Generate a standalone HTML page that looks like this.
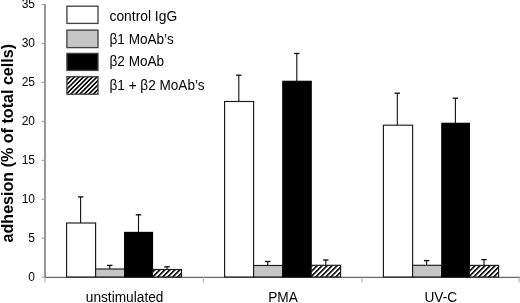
<!DOCTYPE html>
<html><head><meta charset="utf-8"><style>
html,body{margin:0;padding:0;background:#fff;width:520px;height:303px;overflow:hidden}
svg{display:block;filter:grayscale(1)}
text{font-family:"Liberation Sans",sans-serif;fill:#000}
</style></head><body>
<svg width="520" height="303" viewBox="0 0 520 303">
<defs>
<pattern id="hatch0" patternUnits="userSpaceOnUse" width="3.536" height="10" patternTransform="translate(150.40,273.1) rotate(45)"><rect width="3.536" height="10" fill="#fff"/><rect width="1.6" height="10" fill="#000"/></pattern>
<pattern id="hatch1" patternUnits="userSpaceOnUse" width="3.536" height="10" patternTransform="translate(308.50,273.1) rotate(45)"><rect width="3.536" height="10" fill="#fff"/><rect width="1.6" height="10" fill="#000"/></pattern>
<pattern id="hatch2" patternUnits="userSpaceOnUse" width="3.536" height="10" patternTransform="translate(466.40,273.1) rotate(45)"><rect width="3.536" height="10" fill="#fff"/><rect width="1.6" height="10" fill="#000"/></pattern>
<pattern id="lhatch" patternUnits="userSpaceOnUse" width="3.18" height="10" patternTransform="translate(66.4,83.9) rotate(45)">
<rect width="3.18" height="10" fill="#fff"/><rect width="1.59" height="10" fill="#000"/>
</pattern>
</defs>
<rect width="520" height="303" fill="#fff"/>

<line x1="45" y1="4" x2="45" y2="277.2" stroke="#555" stroke-width="1.2"/>
<line x1="41.5" y1="277.20" x2="45" y2="277.20" stroke="#999" stroke-width="1"/>
<text x="35" y="280.90" font-size="12" text-anchor="end">0</text>
<line x1="41.5" y1="238.24" x2="45" y2="238.24" stroke="#999" stroke-width="1"/>
<text x="35" y="241.94" font-size="12" text-anchor="end">5</text>
<line x1="41.5" y1="199.29" x2="45" y2="199.29" stroke="#999" stroke-width="1"/>
<text x="35" y="202.99" font-size="12" text-anchor="end">10</text>
<line x1="41.5" y1="160.33" x2="45" y2="160.33" stroke="#999" stroke-width="1"/>
<text x="35" y="164.03" font-size="12" text-anchor="end">15</text>
<line x1="41.5" y1="121.37" x2="45" y2="121.37" stroke="#999" stroke-width="1"/>
<text x="35" y="125.07" font-size="12" text-anchor="end">20</text>
<line x1="41.5" y1="82.41" x2="45" y2="82.41" stroke="#999" stroke-width="1"/>
<text x="35" y="86.11" font-size="12" text-anchor="end">25</text>
<line x1="41.5" y1="43.46" x2="45" y2="43.46" stroke="#999" stroke-width="1"/>
<text x="35" y="47.16" font-size="12" text-anchor="end">30</text>
<line x1="41.5" y1="4.50" x2="45" y2="4.50" stroke="#999" stroke-width="1"/>
<text x="35" y="8.20" font-size="12" text-anchor="end">35</text>
<line x1="45" y1="277.3" x2="520" y2="277.3" stroke="#444" stroke-width="1"/>
<line x1="45" y1="277.2" x2="45" y2="282.3" stroke="#aaa" stroke-width="1"/>
<line x1="203.3" y1="277.2" x2="203.3" y2="282.3" stroke="#aaa" stroke-width="1"/>
<line x1="361.9" y1="277.2" x2="361.9" y2="282.3" stroke="#aaa" stroke-width="1"/>
<line x1="519" y1="277.2" x2="519" y2="282.3" stroke="#aaa" stroke-width="1"/>
<line x1="80.60" y1="196.90" x2="80.60" y2="223.00" stroke="#111" stroke-width="1.1"/>
<line x1="77.90" y1="196.90" x2="83.30" y2="196.90" stroke="#111" stroke-width="1.35"/>
<rect x="66.60" y="223.00" width="29.00" height="54.00" fill="#fff" stroke="#1a1a1a" stroke-width="1.15"/>
<line x1="109.80" y1="265.40" x2="109.80" y2="269.00" stroke="#111" stroke-width="1.1"/>
<line x1="107.10" y1="265.40" x2="112.50" y2="265.40" stroke="#111" stroke-width="1.35"/>
<rect x="95.60" y="269.00" width="29.00" height="8.00" fill="#c6c6c6" stroke="#1a1a1a" stroke-width="1.15"/>
<line x1="138.50" y1="214.80" x2="138.50" y2="232.40" stroke="#111" stroke-width="1.1"/>
<line x1="135.80" y1="214.80" x2="141.20" y2="214.80" stroke="#111" stroke-width="1.35"/>
<rect x="124.60" y="232.40" width="27.90" height="44.60" fill="#000" stroke="#000" stroke-width="1.15"/>
<line x1="167.00" y1="266.80" x2="167.00" y2="269.50" stroke="#111" stroke-width="1.1"/>
<line x1="164.30" y1="266.80" x2="169.70" y2="266.80" stroke="#111" stroke-width="1.35"/>
<rect x="152.50" y="269.50" width="29.00" height="7.50" fill="url(#hatch0)" stroke="#1a1a1a" stroke-width="1.15"/>
<line x1="238.80" y1="75.20" x2="238.80" y2="101.50" stroke="#111" stroke-width="1.1"/>
<line x1="236.10" y1="75.20" x2="241.50" y2="75.20" stroke="#111" stroke-width="1.35"/>
<rect x="224.60" y="101.50" width="29.00" height="175.50" fill="#fff" stroke="#1a1a1a" stroke-width="1.15"/>
<line x1="267.80" y1="261.50" x2="267.80" y2="265.50" stroke="#111" stroke-width="1.1"/>
<line x1="265.10" y1="261.50" x2="270.50" y2="261.50" stroke="#111" stroke-width="1.35"/>
<rect x="253.60" y="265.50" width="29.20" height="11.50" fill="#c6c6c6" stroke="#1a1a1a" stroke-width="1.15"/>
<line x1="296.80" y1="53.50" x2="296.80" y2="81.30" stroke="#111" stroke-width="1.1"/>
<line x1="294.10" y1="53.50" x2="299.50" y2="53.50" stroke="#111" stroke-width="1.35"/>
<rect x="282.80" y="81.30" width="28.40" height="195.70" fill="#000" stroke="#000" stroke-width="1.15"/>
<line x1="325.80" y1="260.00" x2="325.80" y2="265.30" stroke="#111" stroke-width="1.1"/>
<line x1="323.10" y1="260.00" x2="328.50" y2="260.00" stroke="#111" stroke-width="1.35"/>
<rect x="311.20" y="265.30" width="29.40" height="11.70" fill="url(#hatch1)" stroke="#1a1a1a" stroke-width="1.15"/>
<line x1="397.30" y1="93.20" x2="397.30" y2="125.20" stroke="#111" stroke-width="1.1"/>
<line x1="394.60" y1="93.20" x2="400.00" y2="93.20" stroke="#111" stroke-width="1.35"/>
<rect x="383.40" y="125.20" width="29.20" height="151.80" fill="#fff" stroke="#1a1a1a" stroke-width="1.15"/>
<line x1="426.60" y1="260.60" x2="426.60" y2="265.30" stroke="#111" stroke-width="1.1"/>
<line x1="423.90" y1="260.60" x2="429.30" y2="260.60" stroke="#111" stroke-width="1.35"/>
<rect x="412.60" y="265.30" width="29.20" height="11.70" fill="#c6c6c6" stroke="#1a1a1a" stroke-width="1.15"/>
<line x1="455.40" y1="98.20" x2="455.40" y2="123.30" stroke="#111" stroke-width="1.1"/>
<line x1="452.70" y1="98.20" x2="458.10" y2="98.20" stroke="#111" stroke-width="1.35"/>
<rect x="441.80" y="123.30" width="27.60" height="153.70" fill="#000" stroke="#000" stroke-width="1.15"/>
<line x1="484.00" y1="259.60" x2="484.00" y2="265.40" stroke="#111" stroke-width="1.1"/>
<line x1="481.30" y1="259.60" x2="486.70" y2="259.60" stroke="#111" stroke-width="1.35"/>
<rect x="469.40" y="265.40" width="29.20" height="11.60" fill="url(#hatch2)" stroke="#1a1a1a" stroke-width="1.15"/>
<text transform="translate(124.6,302.1) scale(1,1.04)" font-size="13.7" text-anchor="middle">unstimulated</text>
<text transform="translate(283,302.1) scale(1,1.04)" font-size="13.7" text-anchor="middle">PMA</text>
<text transform="translate(440.8,302.1) scale(1,1.04)" font-size="13.7" text-anchor="middle">UV-C</text>
<text transform="translate(13.3,143.2) rotate(-90)" font-size="16.1" font-weight="bold" text-anchor="middle">adhesion (% of total cells)</text>
<rect x="66.9" y="6.20" width="31.1" height="17.2" fill="#fff" stroke="#444" stroke-width="1.35"/>
<text transform="translate(109.5,21.30) scale(1.018,1.065)" font-size="13.6">control IgG</text>
<rect x="66.9" y="30.10" width="31.1" height="17.5" fill="#c6c6c6" stroke="#444" stroke-width="1.35"/>
<text transform="translate(109.5,44.40) scale(1,1.065)" font-size="13.6">β1 MoAb’s</text>
<rect x="66.9" y="53.40" width="31.1" height="17.0" fill="#000" stroke="#444" stroke-width="1.35"/>
<text transform="translate(109.5,66.30) scale(1,1.065)" font-size="13.6">β2 MoAb</text>
<rect x="66.9" y="76.70" width="31.1" height="17.5" fill="url(#lhatch)" stroke="#444" stroke-width="1.35"/>
<text transform="translate(109.5,90.00) scale(1,1.065)" font-size="13.6">β1 + β2 MoAb’s</text>
</svg></body></html>
